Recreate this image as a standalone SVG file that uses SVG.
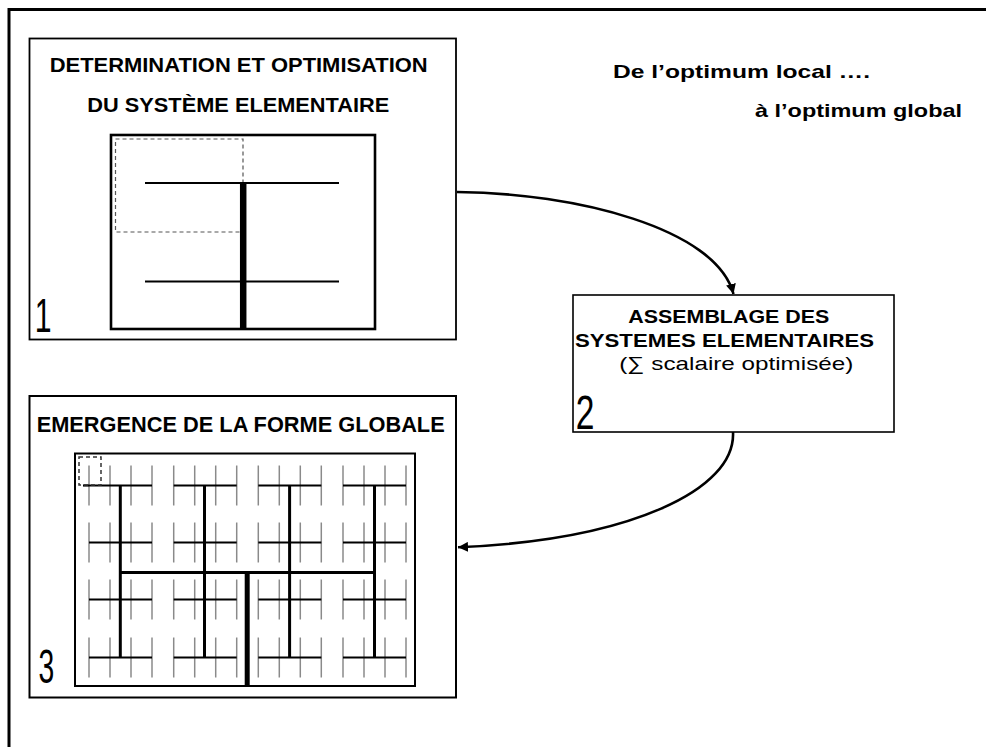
<svg xmlns="http://www.w3.org/2000/svg" width="986" height="747" viewBox="0 0 986 747">
<defs>
<style>
.bx{fill:#fff;stroke:#000}
.t{font-family:"Liberation Sans",Arial,sans-serif;fill:#000}
.b{font-weight:bold}
.num{font-family:"Liberation Sans",Arial,sans-serif;font-size:48px;fill:#000}
.g{stroke:#8a8a8a;stroke-width:1.5;fill:none}
.h{stroke:#000;stroke-width:2.2;fill:none}
.v2{stroke:#000;stroke-width:3;fill:none}
.arr{stroke:#000;stroke-width:2.6;fill:none;marker-end:url(#ah)}
</style>
<marker id="ah" markerUnits="userSpaceOnUse" markerWidth="11" markerHeight="10" refX="10" refY="5" orient="auto" viewBox="0 0 11 10">
<path d="M0,0 L10,5 L0,10 z" fill="#000"/>
</marker>
<g id="unit">
<line class="g" x1="0" y1="-20" x2="0" y2="20"/>
<line class="g" x1="21" y1="-20" x2="21" y2="20"/>
<line class="g" x1="42" y1="-20" x2="42" y2="20"/>
<line class="g" x1="63" y1="-20" x2="63" y2="20"/>
<line class="h" x1="0" y1="0" x2="63" y2="0"/>
</g>
</defs>
<rect width="986" height="747" fill="#fff"/>
<g id="frame">
<path d="M9,747 V9.5 H986" fill="none" stroke="#000" stroke-width="3"/>
</g>
<g id="header">
<text class="t b" x="613" y="78" font-size="19" textLength="257" lengthAdjust="spacingAndGlyphs">De l’optimum local ….</text>
<text class="t b" x="755" y="117" font-size="19" textLength="207" lengthAdjust="spacingAndGlyphs">à l’optimum global</text>
</g>
<g id="node1">
<rect class="bx" x="29.5" y="38.5" width="426.5" height="301" stroke-width="1.8"/>
<text class="t b" x="49.7" y="72" font-size="20" textLength="378" lengthAdjust="spacingAndGlyphs">DETERMINATION ET OPTIMISATION</text>
<text class="t b" x="87.3" y="112" font-size="20" textLength="302" lengthAdjust="spacingAndGlyphs">DU SYSTÈME ELEMENTAIRE</text>
<rect x="111" y="135" width="264" height="194" fill="#fff" stroke="#000" stroke-width="2.6"/>
<rect x="115.5" y="139" width="127.5" height="93" fill="none" stroke="#555" stroke-width="1.2" stroke-dasharray="4,3"/>
<line x1="145" y1="183" x2="339" y2="183" stroke="#000" stroke-width="2"/>
<line x1="145" y1="281.5" x2="339" y2="281.5" stroke="#000" stroke-width="2"/>
<line x1="243.2" y1="183" x2="243.2" y2="329" stroke="#000" stroke-width="6.5"/>
<text class="num" transform="translate(34.7,332) scale(0.63,1)" font-size="46">1</text>
</g>
<g id="node2">
<rect class="bx" x="573" y="295" width="321" height="137" stroke-width="1.6"/>
<text class="t b" x="628.3" y="323" font-size="19" textLength="201" lengthAdjust="spacingAndGlyphs">ASSEMBLAGE DES</text>
<text class="t b" x="575" y="346.7" font-size="19" textLength="299" lengthAdjust="spacingAndGlyphs">SYSTEMES ELEMENTAIRES</text>
<text class="t" x="619.3" y="370" font-size="19" textLength="234" lengthAdjust="spacingAndGlyphs">(∑ scalaire optimisée)</text>
<text class="num" transform="translate(575.7,429) scale(0.7,1)" font-size="50">2</text>
</g>
<g id="node3">
<rect class="bx" x="29.5" y="396" width="426.5" height="301.5" stroke-width="2"/>
<text class="t b" x="36.7" y="431.7" font-size="22" textLength="408" lengthAdjust="spacingAndGlyphs">EMERGENCE DE LA FORME GLOBALE</text>
<rect x="75" y="453.5" width="340" height="232.5" fill="#fff" stroke="#000" stroke-width="2"/>
<use href="#unit" x="89" y="485.5"/>
<use href="#unit" x="173.7" y="485.5"/>
<use href="#unit" x="258.3" y="485.5"/>
<use href="#unit" x="343" y="485.5"/>
<use href="#unit" x="89" y="542.5"/>
<use href="#unit" x="173.7" y="542.5"/>
<use href="#unit" x="258.3" y="542.5"/>
<use href="#unit" x="343" y="542.5"/>
<use href="#unit" x="89" y="599.5"/>
<use href="#unit" x="173.7" y="599.5"/>
<use href="#unit" x="258.3" y="599.5"/>
<use href="#unit" x="343" y="599.5"/>
<use href="#unit" x="89" y="657.5"/>
<use href="#unit" x="173.7" y="657.5"/>
<use href="#unit" x="258.3" y="657.5"/>
<use href="#unit" x="343" y="657.5"/>
<line class="h" x1="83" y1="485.5" x2="89" y2="485.5"/>
<line class="v2" x1="120.3" y1="485.5" x2="120.3" y2="657.5"/>
<line class="v2" x1="204.5" y1="485.5" x2="204.5" y2="657.5"/>
<line class="v2" x1="289.6" y1="485.5" x2="289.6" y2="657.5"/>
<line class="v2" x1="374.5" y1="485.5" x2="374.5" y2="657.5"/>
<line class="v2" x1="120.3" y1="572.5" x2="374.5" y2="572.5"/>
<line x1="247.2" y1="572.5" x2="247.2" y2="686" stroke="#000" stroke-width="5"/>
<rect x="79" y="457" width="22" height="28" fill="none" stroke="#333" stroke-width="1.5" stroke-dasharray="4,3"/>
<text class="num" transform="translate(38.5,683) scale(0.59,1)" font-size="49">3</text>
</g>
<g id="connectors">
<path class="arr" d="M457,192 C575,193 716,228 733.5,294"/>
<path class="arr" d="M733,432 C736,490 630,540 458,547.3"/>
</g>
</svg>
